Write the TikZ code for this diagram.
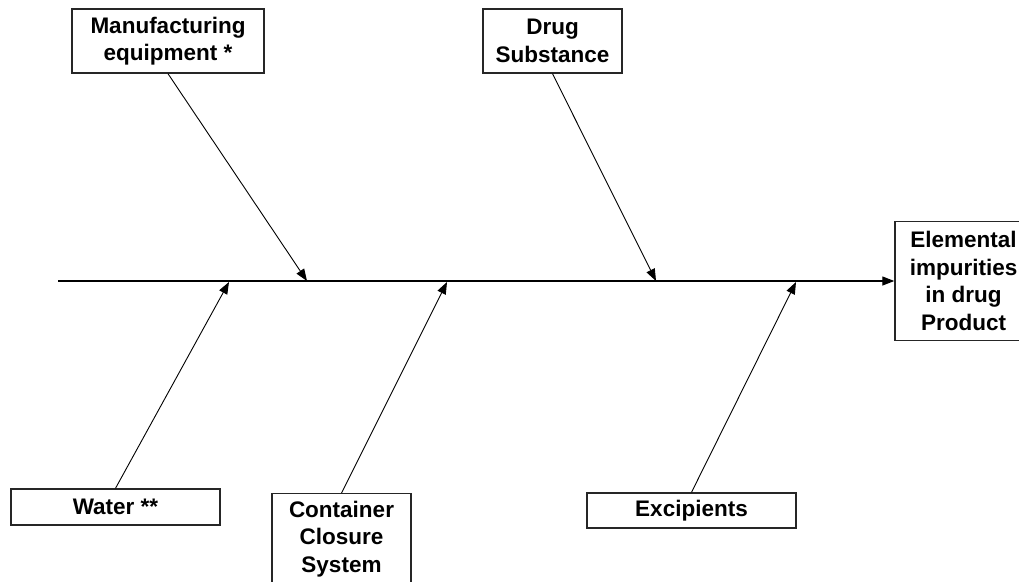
\documentclass[tikz,border=0pt]{standalone}
\usepackage{fontspec}
\setmainfont{Liberation Sans}
\usetikzlibrary{arrows.meta}
\begin{document}
\begin{tikzpicture}[x=1pt,y=-1pt,
  box/.style={draw=black!85,line width=1.4pt,fill=white,inner sep=0pt,align=center,
    font=\fontsize{22.5}{27.5}\selectfont\bfseries},
  branch/.style={line width=0.9pt,-{Triangle[length=12pt,width=9pt]}},
  spine/.style={line width=1.2pt,-{Triangle[length=12pt,width=9pt]}}]
\useasboundingbox (0,0) rectangle (1019,581);
\node[box,minimum width=192pt,minimum height=64pt] (manu) at (168,41) {Manufacturing\\equipment *};
\node[box,minimum width=139pt,minimum height=64pt] (drug) at (552.5,41) {Drug\\Substance};
\node[box,minimum width=137pt,minimum height=119pt] (elem) at (963.5,281) {Elemental\\impurities\\in drug\\Product};
\node[box,minimum width=209pt,minimum height=36pt] (water) at (115.5,507) {Water **};
\node[box,minimum width=139pt,minimum height=90pt,anchor=north] (cont) at (341.5,493) {Container\\Closure\\System};
\node[box,minimum width=209pt,minimum height=35pt] (exc) at (691.5,510.5) {Excipients};
\coordinate (tail) at (58,281);
\coordinate (m1) at (307,281);
\coordinate (d1) at (656,281);
\coordinate (w1) at (229,282);
\coordinate (c1) at (447,282);
\coordinate (e1) at (796,282);
\draw[spine] (tail) -- (elem.west);
\draw[branch] (manu.south) -- (m1);
\draw[branch] (drug.south) -- (d1);
\draw[branch] (water.north) -- (w1);
\draw[branch] (cont.north) -- (c1);
\draw[branch] (exc.north) -- (e1);
\end{tikzpicture}
\end{document}
